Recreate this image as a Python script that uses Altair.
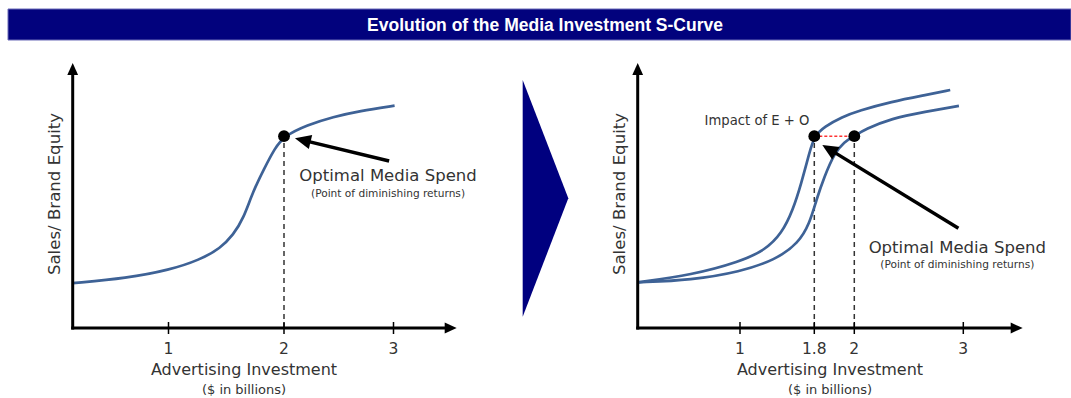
import altair as alt
import pandas as pd

# ---------------------------------------------------------------
# Data: S-curves of sales / brand equity vs advertising investment
# x in $ billions, y as a 0-100 response index
# ---------------------------------------------------------------
left_x = [0.17, 0.64, 1.01, 1.27, 1.45, 1.56, 1.65, 1.73, 1.83, 1.92, 2.0, 2.21, 2.45, 2.69, 3.01]
left_y = [16.9, 18.8, 21.9, 25.7, 30.1, 35.1, 41.4, 51.4, 60.3, 67.8, 72.4, 76.6, 79.7, 81.9, 83.9]

# curve after the effectiveness + optimisation (E + O) shift
shifted_x = [0.11, 0.58, 1.0, 1.27, 1.45, 1.57, 1.66, 1.75, 1.8, 1.85, 1.94, 2.04, 2.34, 2.65, 2.88]
shifted_y = [17.2, 20.0, 25.0, 29.4, 35.7, 44.5, 54.6, 66.5, 72.4, 76.0, 79.7, 82.0, 85.4, 87.9, 89.8]

# original curve
base_x = [0.11, 0.58, 1.0, 1.38, 1.63, 1.75, 1.81, 1.85, 1.90, 1.95, 2.0, 2.10, 2.34, 2.65, 2.96]
base_y = [17.2, 18.1, 21.2, 25.7, 32.0, 39.5, 48.3, 57.1, 65.9, 70.3, 72.4, 75.0, 79.1, 81.6, 83.8]

left_ticks = [1, 2, 3]
right_ticks = [1, 1.8, 2, 3]

optimal_y = 72.4
left_optimal_x = [2.0]
right_optimal_x = [1.8, 2.0]

title_text = "Evolution of the Media Investment S-Curve"
y_title = "Sales/ Brand Equity"
x_title = "Advertising Investment"
x_subtitle = "($ in billions)"
note_main = "Optimal Media Spend"
note_sub = "(Point of diminishing returns)"
impact_label = "Impact of E + O"

# annotation anchors in data space: text centre and arrow tail / tip
left_note = {"x": 2.95, "y_main": 55.5, "y_sub": 49.4}
right_note = {"x": 2.945, "y_main": 28.3, "y_sub": 22.6}
impact_pos = {"x": 1.183, "y": 76.6}
left_arrow = {"x0": 2.96, "y0": 63.0, "x1": 2.17, "y1": 70.9, "tx": 2.10, "ty": 71.6, "angle": 283.5}
right_arrow = {"x0": 2.955, "y0": 37.6, "x1": 1.874, "y1": 67.5, "tx": 1.84, "ty": 69.1, "angle": 301.5}

# ---------------------------------------------------------------
# Styling
# ---------------------------------------------------------------
NAVY = "#02027d"
CURVE = "#3e6296"
TEXT = "#333333"
FONT = "DejaVu Sans"
HEAD = "M0,0L0.45,1L-0.45,1Z"          # arrowhead, tip at origin, pointing up
CHEVRON = "M-0.1927,-1L0.1927,0L-0.1927,1Z"

Y = alt.Scale(domain=[0, 100], range=[328, 63], nice=False, zero=False)
XL = alt.Scale(domain=[0, 1, 2, 3], range=[53, 168.5, 284, 393.5], nice=False, zero=False)
XR = alt.Scale(domain=[0, 1, 1.8, 2, 3], range=[625, 740, 814.3, 854.3, 963.3], nice=False, zero=False)

one = pd.DataFrame({"k": [0]})


def xq(field, scale):
    return alt.X(f"{field}:Q", scale=scale, axis=None)


def yq(field):
    return alt.Y(f"{field}:Q", scale=Y, axis=None)


def panel(curves, ticks, opt_x, xs, note, arrow, y_axis_x, x_tip, title_cx, ylab_x, extra=()):
    layers = []
    # dashed drop lines from the optimal points
    drops = pd.DataFrame({"x": opt_x, "y": [optimal_y] * len(opt_x), "y0": [0] * len(opt_x)})
    layers.append(
        alt.Chart(drops).mark_rule(color="#333333", strokeWidth=1.5, strokeDash=[5, 4]).encode(
            x=xq("x", xs), y=yq("y0"), y2="y:Q"
        )
    )
    layers.extend(extra)
    # curves
    layers.append(
        alt.Chart(curves).mark_line(interpolate="basis", color=CURVE, strokeWidth=2.7).encode(
            x=xq("x", xs), y=yq("y"), detail="curve:N"
        )
    )
    # axis lines and arrowheads
    layers.append(
        alt.Chart(one).mark_rule(color="black", strokeWidth=3).encode(
            x=alt.value(y_axis_x - 1.5), x2=alt.value(x_tip - 7), y=alt.value(328)
        )
    )
    layers.append(
        alt.Chart(one).mark_rule(color="black", strokeWidth=3).encode(
            x=alt.value(y_axis_x), y=alt.value(329.5), y2=alt.value(70)
        )
    )
    layers.append(
        alt.Chart(one).mark_point(shape=HEAD, filled=True, size=576, color="black", opacity=1, strokeWidth=0).encode(
            x=alt.value(x_tip), y=alt.value(328), angle=alt.value(90)
        )
    )
    layers.append(
        alt.Chart(one).mark_point(shape=HEAD, filled=True, size=576, color="black", opacity=1, strokeWidth=0).encode(
            x=alt.value(y_axis_x), y=alt.value(63), angle=alt.value(0)
        )
    )
    # ticks and tick labels
    tdf = pd.DataFrame({"t": ticks, "label": [str(t) for t in ticks]})
    layers.append(
        alt.Chart(tdf).mark_rule(color="black", strokeWidth=1.5).encode(
            x=xq("t", xs), y=alt.value(322), y2=alt.value(334)
        )
    )
    layers.append(
        alt.Chart(tdf).mark_text(font=FONT, fontSize=15.5, color=TEXT, baseline="alphabetic").encode(
            x=xq("t", xs), y=alt.value(354), text="label:N"
        )
    )
    # annotation arrow
    adf = pd.DataFrame([arrow])
    layers.append(
        alt.Chart(adf).mark_rule(color="black", strokeWidth=3.5).encode(
            x=xq("x0", xs), y=yq("y0"), x2="x1:Q", y2="y1:Q"
        )
    )
    layers.append(
        alt.Chart(adf).mark_point(shape=HEAD, filled=True, size=1024, color="black", opacity=1, strokeWidth=0).encode(
            x=xq("tx", xs), y=yq("ty"), angle=alt.value(arrow["angle"])
        )
    )
    # optimal points
    pdf = pd.DataFrame({"x": opt_x, "y": [optimal_y] * len(opt_x)})
    layers.append(
        alt.Chart(pdf).mark_circle(size=140, color="black", opacity=1).encode(x=xq("x", xs), y=yq("y"))
    )
    # annotation text
    ndf = pd.DataFrame(
        {"x": [note["x"], note["x"]], "y": [note["y_main"], note["y_sub"]],
         "text": [note_main, note_sub], "size": [16.5, 10.6]}
    )
    layers.append(
        alt.Chart(ndf).mark_text(font=FONT, color=TEXT, baseline="alphabetic").encode(
            x=xq("x", xs), y=yq("y"), text="text:N",
            size=alt.Size("size:Q", scale=None, legend=None),
        )
    )
    # axis titles
    layers.append(
        alt.Chart(one).mark_text(font=FONT, fontSize=16.6, color=TEXT, angle=270, baseline="middle").encode(
            x=alt.value(ylab_x), y=alt.value(194), text=alt.value(y_title)
        )
    )
    layers.append(
        alt.Chart(one).mark_text(font=FONT, fontSize=16, color=TEXT, baseline="alphabetic").encode(
            x=alt.value(title_cx), y=alt.value(375), text=alt.value(x_title)
        )
    )
    layers.append(
        alt.Chart(one).mark_text(font=FONT, fontSize=13, color=TEXT, baseline="alphabetic").encode(
            x=alt.value(title_cx), y=alt.value(394), text=alt.value(x_subtitle)
        )
    )
    return alt.layer(*layers)


left_curves = pd.DataFrame({"x": left_x, "y": left_y, "curve": "base"})
right_curves = pd.concat(
    [
        pd.DataFrame({"x": shifted_x, "y": shifted_y, "curve": "shifted"}),
        pd.DataFrame({"x": base_x, "y": base_y, "curve": "base"}),
    ],
    ignore_index=True,
)

gap = pd.DataFrame({"x1": [right_optimal_x[0]], "x2": [right_optimal_x[1]], "y": [optimal_y]})
red_gap = alt.Chart(gap).mark_rule(color="#ff3333", strokeWidth=1.5, strokeDash=[3, 2]).encode(
    x=xq("x1", XR), x2="x2:Q", y=yq("y")
)
impact = alt.Chart(pd.DataFrame([{**impact_pos, "text": impact_label}])).mark_text(
    font=FONT, fontSize=13.2, color=TEXT, baseline="alphabetic"
).encode(x=xq("x", XR), y=yq("y"), text="text:N")

left_panel = panel(left_curves, left_ticks, left_optimal_x, XL, left_note, left_arrow,
                   72.7, 456.7, 244, 55)
right_panel = panel(right_curves, right_ticks, right_optimal_x, XR, right_note, right_arrow,
                    637.7, 1022.7, 830, 620, extra=(red_gap, impact))

# header banner
banner = alt.Chart(one).mark_rect(fill=NAVY, stroke="#6a6ab8", strokeWidth=1).encode(
    x=alt.value(8), x2=alt.value(1071), y=alt.value(9), y2=alt.value(40)
)
banner_text = alt.Chart(one).mark_text(
    font="Liberation Sans", fontSize=17.5, fontWeight="bold", color="white", baseline="alphabetic"
).encode(x=alt.value(545), y=alt.value(30.5), text=alt.value(title_text))

# chevron between the panels
chevron = alt.Chart(one).mark_point(shape=CHEVRON, filled=True, size=56025, color="#00007f",
                                    opacity=1, strokeWidth=0).encode(
    x=alt.value(545.5), y=alt.value(198.35)
)

chart = (
    alt.layer(banner, banner_text, chevron, left_panel, right_panel)
    .resolve_scale(x="independent", y="independent")
    .properties(width=1071, height=398, padding=0, autosize=alt.AutoSizeParams(type="none"),
                background="white")
    .configure_view(stroke=None)
)

chart.save("out.html", embed_options={"renderer": "svg", "actions": False})
